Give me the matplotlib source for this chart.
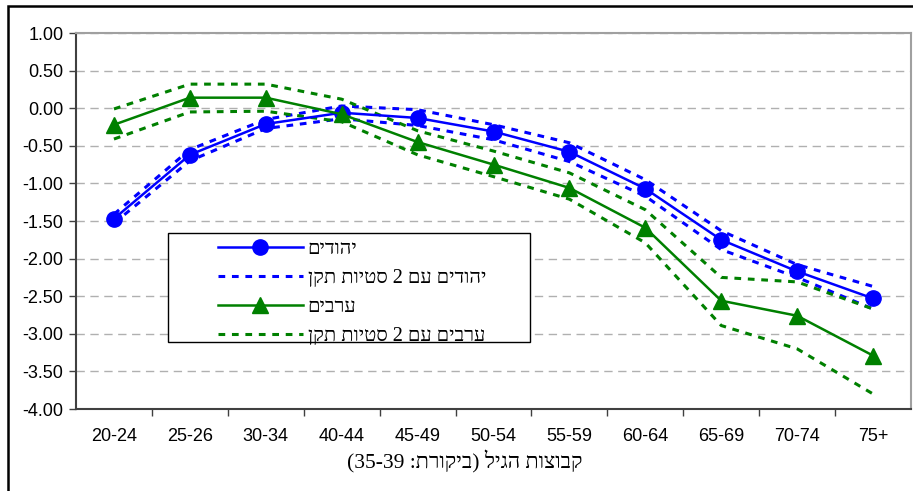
import matplotlib

matplotlib.use("Agg")
import matplotlib.pyplot as plt
from matplotlib.patches import Rectangle

# data
ages = ["20-24", "25-26", "30-34", "40-44", "45-49", "50-54",
        "55-59", "60-64", "65-69", "70-74", "75+"]
jews = [-1.47, -0.62, -0.21, -0.06, -0.13, -0.31, -0.58, -1.07, -1.75, -2.17, -2.53]
jews_hi = [-1.41, -0.55, -0.15, 0.03, -0.02, -0.22, -0.46, -0.95, -1.63, -2.08, -2.37]
jews_lo = [-1.53, -0.70, -0.27, -0.14, -0.23, -0.42, -0.71, -1.17, -1.88, -2.25, -2.67]
arabs = [-0.22, 0.14, 0.14, -0.08, -0.45, -0.75, -1.06, -1.59, -2.56, -2.76, -3.29]
arabs_hi = [-0.01, 0.32, 0.32, 0.12, -0.30, -0.57, -0.86, -1.35, -2.25, -2.31, -2.67]
arabs_lo = [-0.41, -0.05, -0.04, -0.18, -0.62, -0.91, -1.21, -1.79, -2.89, -3.20, -3.80]
yticks = [1.0, 0.5, 0.0, -0.5, -1.0, -1.5, -2.0, -2.5, -3.0, -3.5, -4.0]


def heb(s):
    # matplotlib has no bidi support: hand it the visual order
    return s[::-1]


lbl_jews = heb("יהודים")
lbl_jews_sd = heb("יהודים עם 2 סטיות תקן")
lbl_arabs = heb("ערבים")
lbl_arabs_sd = heb("ערבים עם 2 סטיות תקן")
xlabel = "(35-39 :" + heb("ביקורת") + ") " + heb("הגיל") + " " + heb("קבוצות")

BLUE = "#0000ff"
GREEN = "#008000"
SERIF = ["Liberation Serif", "DejaVu Serif"]

plt.rcParams["font.family"] = ["Liberation Sans", "DejaVu Sans"]

fig = plt.figure(figsize=(9.13, 4.91), dpi=100)
ax = fig.add_axes([76 / 913, 1 - 409 / 491, 835 / 913, 376 / 491])

# outer figure frame (only left and top edges visible in the reference)
fig.patches.append(Rectangle((8 / 913, -0.1), 1.2, 1 - 6 / 491 + 0.1,
                             transform=fig.transFigure, fill=False,
                             ec="black", lw=1.8))

x = list(range(len(ages)))
dash = (0, (2.2, 2.2))
ax.plot(x, jews_hi, color=BLUE, lw=2.2, ls=dash, zorder=3)
ax.plot(x, jews_lo, color=BLUE, lw=2.2, ls=dash, zorder=3)
ax.plot(x, arabs_hi, color=GREEN, lw=2.2, ls=dash, zorder=3)
ax.plot(x, arabs_lo, color=GREEN, lw=2.2, ls=dash, zorder=3)
h1, = ax.plot(x, jews, color=BLUE, lw=1.8, marker="o", ms=11, zorder=4)
h3, = ax.plot(x, arabs, color=GREEN, lw=1.8, marker="^", ms=11, zorder=4)
h2, = ax.plot([], [], color=BLUE, lw=2.2, ls=dash)
h4, = ax.plot([], [], color=GREEN, lw=2.2, ls=dash)

ax.set_xlim(-0.5, 10.5)
ax.set_ylim(-4.0, 1.0)
ax.set_yticks(yticks)
ax.set_yticklabels([f"{v:.2f}" for v in yticks], fontsize=13)
ax.set_xticks(x)
ax.set_xticklabels(ages, fontsize=13)
ax.set_xticks([i + 0.5 for i in x[:-1]], minor=True)
ax.tick_params(axis="x", which="major", length=0, pad=14)
ax.tick_params(axis="x", which="minor", length=5, width=1, color="#404040")
ax.tick_params(axis="y", length=5, width=1, color="#404040", pad=4)

ax.grid(axis="y", color="#b0b0b0", lw=1, ls=(0, (6, 4)))
ax.set_axisbelow(True)
for side in ("top", "right"):
    ax.spines[side].set_color("#a0a0a0")
    ax.spines[side].set_linewidth(1.5)
for side in ("left", "bottom"):
    ax.spines[side].set_color("#404040")
    ax.spines[side].set_linewidth(1.5)

# legend box drawn separately, the entries sit well inside it
ax.add_patch(Rectangle((0.110, 0.178), 0.434, 0.290, transform=ax.transAxes,
                       fc="white", ec="black", lw=1, zorder=5))
leg = ax.legend([h1, h2, h3, h4], [lbl_jews, lbl_jews_sd, lbl_arabs, lbl_arabs_sd],
                loc="center left", bbox_to_anchor=(0.170, 0.308),
                frameon=False, handlelength=4.2, handletextpad=0.25,
                labelspacing=0.5, borderpad=0, borderaxespad=0,
                prop={"family": SERIF, "size": 14.5})
leg.set_zorder(6)

ax.text(0.466, -0.141, xlabel, transform=ax.transAxes, ha="center", va="center",
        fontsize=15.5, family=SERIF)

fig.savefig("out.png", dpi=100)
